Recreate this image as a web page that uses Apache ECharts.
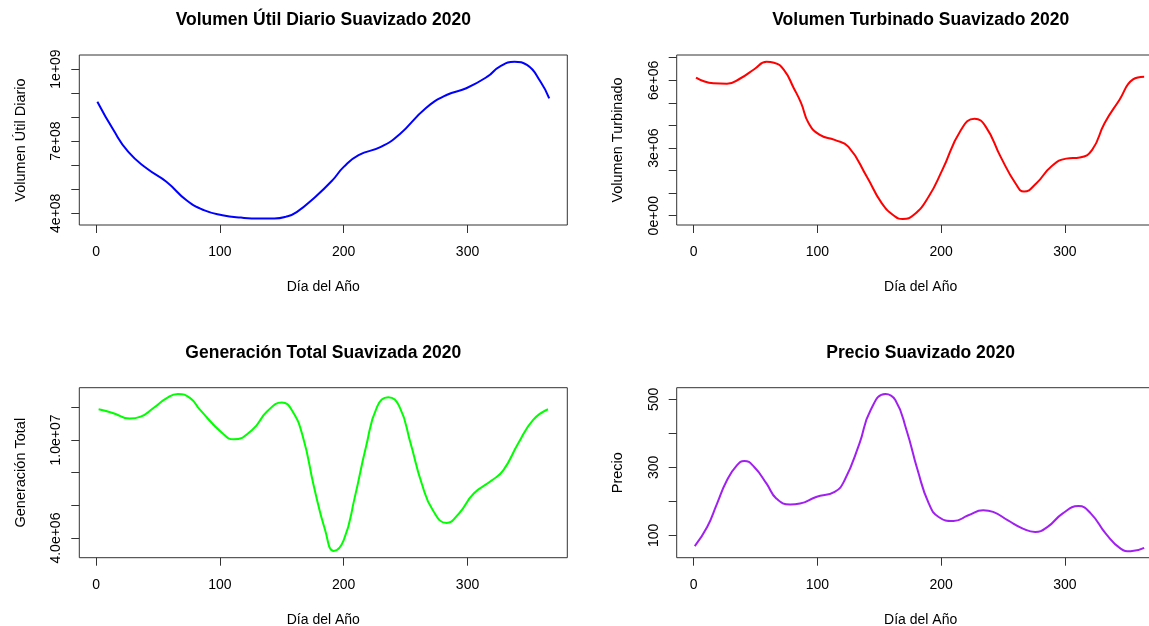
<!DOCTYPE html>
<html>
<head>
<meta charset="utf-8">
<title>Series suavizadas 2020</title>
<script src="https://cdn.jsdelivr.net/npm/echarts@6/dist/echarts.min.js"></script>
<style>
  html, body { margin: 0; padding: 0; background: #ffffff; }
  #chart { width: 1149px; height: 626px; }
</style>
</head>
<body>
<div id="chart"></div>
<script>
// Volumen útil diario (suavizado)
const utilDays   = [1, 14, 26, 41, 57, 73, 87, 102, 117, 132, 144, 153, 162, 177, 191, 200, 212, 230, 245, 266, 283, 299, 316, 326, 338, 348, 359, 366];
const utilValues = [8.64e8, 7.46e8, 6.55e8, 5.86e8, 5.30e8, 4.54e8, 4.13e8, 3.92e8, 3.82e8, 3.78e8, 3.78e8, 3.85e8, 4.05e8, 4.68e8, 5.38e8, 5.93e8, 6.42e8, 6.76e8, 7.28e8, 8.36e8, 8.92e8, 9.20e8, 9.68e8, 1.010e9, 1.030e9, 1.017e9, 9.47e8, 8.78e8];

// Volumen turbinado (suavizado)
const turbDays   = [2, 16, 27, 38, 49, 59, 65, 73, 81, 87, 93, 102, 114, 125, 140, 152, 163, 169, 178, 190, 201, 216, 227, 236, 248, 260, 267, 277, 289, 301, 312, 322, 332, 344, 355, 364];
const turbValues = [6.12e6, 5.87e6, 5.85e6, 6.09e6, 6.49e6, 6.82e6, 6.78e6, 6.46e6, 5.65e6, 4.98e6, 4.10e6, 3.58e6, 3.36e6, 3.06e6, 1.73e6, 0.56e6, -0.04e6, -0.14e6, 0.04e6, 0.85e6, 2.03e6, 3.80e6, 4.30e6, 3.95e6, 2.62e6, 1.44e6, 1.07e6, 1.44e6, 2.18e6, 2.53e6, 2.58e6, 2.92e6, 4.10e6, 5.13e6, 6.04e6, 6.16e6];

// Generación total (suavizada)
const genDays   = [2, 14, 27, 36, 46, 57, 66, 76, 84, 102, 111, 126, 138, 150, 158, 167, 176, 185, 192, 200, 209, 218, 227, 236, 245, 254, 263, 272, 283, 293, 305, 320, 329, 341, 353, 365];
const genValues = [1.188e7, 1.164e7, 1.131e7, 1.143e7, 1.194e7, 1.256e7, 1.282e7, 1.256e7, 1.184e7, 1.041e7, 1.004e7, 1.061e7, 1.174e7, 1.229e7, 1.184e7, 1.020e7, 7.13e6, 4.48e6, 3.21e6, 3.87e6, 6.52e6, 9.59e6, 1.204e7, 1.262e7, 1.204e7, 9.80e6, 7.34e6, 5.70e6, 4.93e6, 5.50e6, 6.73e6, 7.55e6, 8.16e6, 9.80e6, 1.123e7, 1.188e7];

// Precio (suavizado)
const precioDays   = [1, 11, 19, 27, 35, 41, 49, 59, 67, 78, 86, 99, 114, 122, 134, 143, 155, 163, 172, 181, 190, 198, 210, 222, 234, 242, 254, 266, 276, 286, 298, 311, 321, 333, 345, 353, 364];
const precioValues = [68.6, 124.5, 193.5, 262, 306, 319, 301, 252, 208, 190.5, 193.5, 213, 228, 262, 370, 468, 516, 498, 410, 292, 194, 154, 142, 159, 174, 169, 144, 120, 110, 125, 164, 186, 164, 105, 61, 53, 63];

// Ejes: marcas y etiquetas
const dayTicks = [0, 100, 200, 300];
const utilTicks = [4e8, 5e8, 6e8, 7e8, 8e8, 9e8, 1e9];
const utilLabelValues = [4e8, 7e8, 1e9];
const utilLabels = ['4e+08', '7e+08', '1e+09'];
const turbTicks = [0, 1e6, 2e6, 3e6, 4e6, 5e6, 6e6, 7e6];
const turbLabelValues = [0, 3e6, 6e6];
const turbLabels = ['0e+00', '3e+06', '6e+06'];
const genTicks = [4e6, 6e6, 8e6, 1e7, 1.2e7];
const genLabelValues = [4e6, 1e7];
const genLabels = ['4.0e+06', '1.0e+07'];
const precioTicks = [100, 200, 300, 400, 500];
const precioLabelValues = [100, 300, 500];
const precioLabels = ['100', '300', '500'];

const titles = [
  'Volumen Útil Diario Suavizado 2020',
  'Volumen Turbinado Suavizado 2020',
  'Generación Total Suavizada 2020',
  'Precio Suavizado 2020'
];
const yNames = ['Volumen Útil Diario', 'Volumen Turbinado', 'Generación Total', 'Precio'];
const xName = 'Día del Año';
const colors = ['#0000ff', '#ff0000', '#00ff00', '#a020f0'];

const FONT = '"Liberation Sans", Arial, sans-serif';
const INK = '#000000';
const FRAME = '#333333';

// panel geometry (pixels)
const colLeft = [79.3, 676.7];
const rowTop = [55, 387.7];
const plotW = 488;
const plotH = 170;

const panels = [
  { days: utilDays, values: utilValues, yMin: 3.5125e8, yMax: 1.0583e9, ticks: utilTicks, labelValues: utilLabelValues, labels: utilLabels },
  { days: turbDays, values: turbValues, yMin: -0.41e6, yMax: 7.12e6, ticks: turbTicks, labelValues: turbLabelValues, labels: turbLabels },
  { days: genDays, values: genValues, yMin: 2.8e6, yMax: 1.32e7, ticks: genTicks, labelValues: genLabelValues, labels: genLabels },
  { days: precioDays, values: precioValues, yMin: 34.3, yMax: 534.2, ticks: precioTicks, labelValues: precioLabelValues, labels: precioLabels }
];

const grids = [], xAxes = [], yAxes = [], series = [], titleList = [];

panels.forEach(function (p, i) {
  const left = colLeft[i % 2];
  const top = rowTop[Math.floor(i / 2)];
  grids.push({
    left: left, top: top, width: plotW, height: plotH,
    show: true, borderColor: FRAME, borderWidth: 1, backgroundColor: 'transparent',
    containLabel: false, outerBoundsMode: 'none'
  });
  titleList.push({
    text: titles[i],
    left: left + plotW / 2,
    top: top - 44,
    textAlign: 'center',
    padding: 0,
    textStyle: { fontFamily: FONT, fontSize: 17.5, fontWeight: 'bold', color: INK }
  });
  xAxes.push({
    type: 'value', gridIndex: i, min: -13.6, max: 380.6,
    name: xName, nameLocation: 'middle', nameGap: 55,
    nameTextStyle: { fontFamily: FONT, fontSize: 14, color: INK },
    axisLine: { show: false, onZero: false },
    splitLine: { show: false },
    axisTick: { show: true, inside: false, length: 8, customValues: dayTicks, lineStyle: { color: FRAME, width: 1 } },
    axisLabel: { show: true, margin: 20, customValues: dayTicks, fontFamily: FONT, fontSize: 14, color: INK, formatter: function (v) { return String(Math.round(v)); } }
  });
  yAxes.push({
    type: 'value', gridIndex: i, min: p.yMin, max: p.yMax,
    name: yNames[i], nameLocation: 'middle', nameGap: 51, nameRotate: 90,
    nameTextStyle: { fontFamily: FONT, fontSize: 14.5, color: INK },
    axisLine: { show: false, onZero: false },
    splitLine: { show: false },
    axisTick: { show: true, inside: false, length: 8, customValues: p.ticks, lineStyle: { color: FRAME, width: 1 } },
    axisLabel: {
      show: true, margin: 16, rotate: 90, customValues: p.labelValues,
      fontFamily: FONT, fontSize: 14, color: INK,
      formatter: function (v) {
        let best = 0, bestD = Infinity;
        p.labelValues.forEach(function (lv, k) {
          const d = Math.abs(lv - v);
          if (d < bestD) { bestD = d; best = k; }
        });
        return p.labels[best];
      }
    }
  });
  series.push({
    type: 'line', xAxisIndex: i, yAxisIndex: i,
    data: p.days.map(function (d, k) { return [d, p.values[k]]; }),
    smooth: 0.5, showSymbol: false, symbol: 'none', clip: true,
    lineStyle: { color: colors[i], width: 2 },
    emphasis: { disabled: true }
  });
});

const chart = echarts.init(document.getElementById('chart'), null, { renderer: 'canvas' });
chart.setOption({
  animation: false,
  backgroundColor: '#ffffff',
  title: titleList,
  grid: grids,
  xAxis: xAxes,
  yAxis: yAxes,
  series: series
});
</script>
</body>
</html>
